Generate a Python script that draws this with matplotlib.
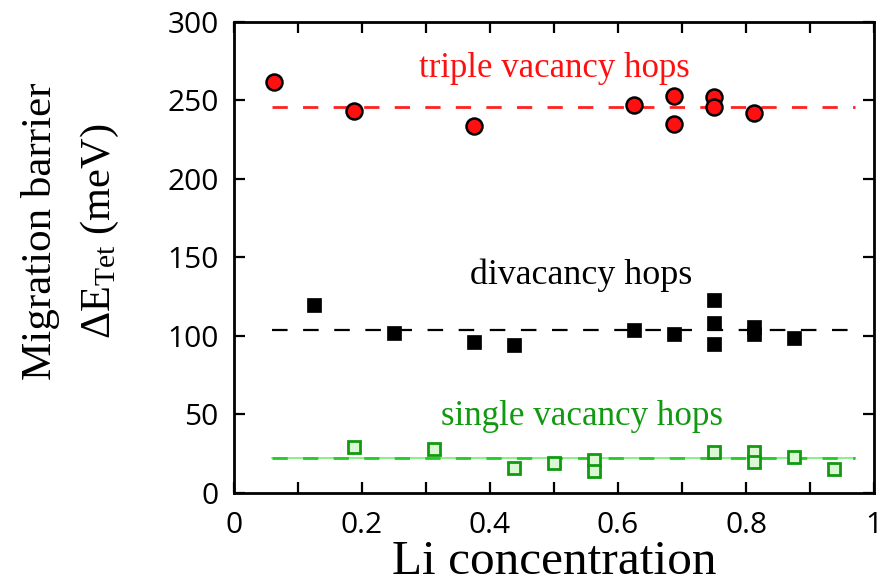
import matplotlib
matplotlib.use("Agg")
import matplotlib.pyplot as plt
from matplotlib.ticker import MultipleLocator

# Li concentration / migration barrier (meV)
tri_x = [0.0625, 0.1875, 0.375, 0.625, 0.6875, 0.6875, 0.75, 0.75, 0.8125]
tri_y = [262, 243, 234, 247, 253, 235, 252, 246, 242]
tri_avg = 246

di_x = [0.125, 0.25, 0.375, 0.4375, 0.625, 0.6875, 0.75, 0.75, 0.75, 0.8125, 0.8125, 0.875]
di_y = [120, 102, 96, 94, 104, 101, 123, 108, 95, 106, 101, 99]
di_avg = 104

single_x = [0.1875, 0.3125, 0.4375, 0.5, 0.5625, 0.5625, 0.75, 0.8125, 0.8125, 0.875, 0.9375]
single_y = [29, 28, 16, 19, 21, 14, 26, 26, 20, 23, 15]
single_avg = 22

line_x = [0.06, 0.97]
xtick_vals = [0, 0.2, 0.4, 0.6, 0.8, 1]
xtick_labels = ['0', '0.2', '0.4', '0.6', '0.8', '1']

plt.rcParams['mathtext.fontset'] = 'custom'
plt.rcParams['mathtext.rm'] = 'Liberation Serif'
plt.rcParams['mathtext.it'] = 'Liberation Serif:italic'

fig = plt.figure(figsize=(8.81, 5.86), dpi=100)
ax = fig.add_axes([0.2656, 0.1587, 0.7265, 0.8038])

# average lines
ax.plot(line_x, [tri_avg] * 2, color='#ff2020', lw=2.0, dashes=(5.5, 5.5), zorder=1)
ax.plot(line_x, [di_avg] * 2, color='black', lw=1.6, dashes=(7, 7), zorder=1)
ax.plot(line_x, [single_avg] * 2, color='#77ee77', lw=1.2, zorder=1)
ax.plot(line_x, [single_avg] * 2, color='#22cc22', lw=2.0, dashes=(5.5, 5.5), zorder=1)

# data points
ax.plot(tri_x, tri_y, 'o', ms=11.5, mfc='#ff1010', mec='black', mew=1.8, zorder=3)
ax.plot(di_x, di_y, 's', ms=9.5, mfc='black', mec='black', mew=0.5, zorder=3)
ax.plot(single_x, single_y, 's', ms=8.3, mfc='#dcf7d4', mec='#109a10', mew=2.0, zorder=3)

serif = 'Liberation Serif'
ax.text(0.5, 265, 'triple vacancy hops', color='#ff1010', fontsize=25,
        family=serif, ha='center', va='baseline')
ax.text(0.542, 133, 'divacancy hops', color='black', fontsize=25.8,
        family=serif, ha='center', va='baseline')
ax.text(0.543, 43, 'single vacancy hops', color='#119911', fontsize=25.2,
        family=serif, ha='center', va='baseline')

ax.set_xlim(0, 1)
ax.set_ylim(0, 300)
ax.set_xticks(xtick_vals)
ax.set_xticklabels(xtick_labels)
ax.xaxis.set_minor_locator(MultipleLocator(0.1))
ax.yaxis.set_major_locator(MultipleLocator(50))

ax.tick_params(which='both', direction='in', top=True, right=True,
               length=8, width=1.6, labelsize=21.5, pad=11)
ax.tick_params(axis='x', which='major', pad=13)
for lab in ax.get_xticklabels() + ax.get_yticklabels():
    lab.set_family('Open Sans')
for s in ax.spines.values():
    s.set_linewidth(2.0)

ax.set_xlabel('Li concentration', fontsize=35.5, family=serif, labelpad=0)

fig.text(0.046, 0.605, 'Migration barrier', rotation=90, fontsize=31,
         family=serif, ha='center', va='center')
fig.text(0.113, 0.605, 'ΔE$_{\\rm Tet}$ (meV)', rotation=90, fontsize=30.5,
         family=serif, ha='center', va='center')

fig.savefig('out.png', dpi=100)
